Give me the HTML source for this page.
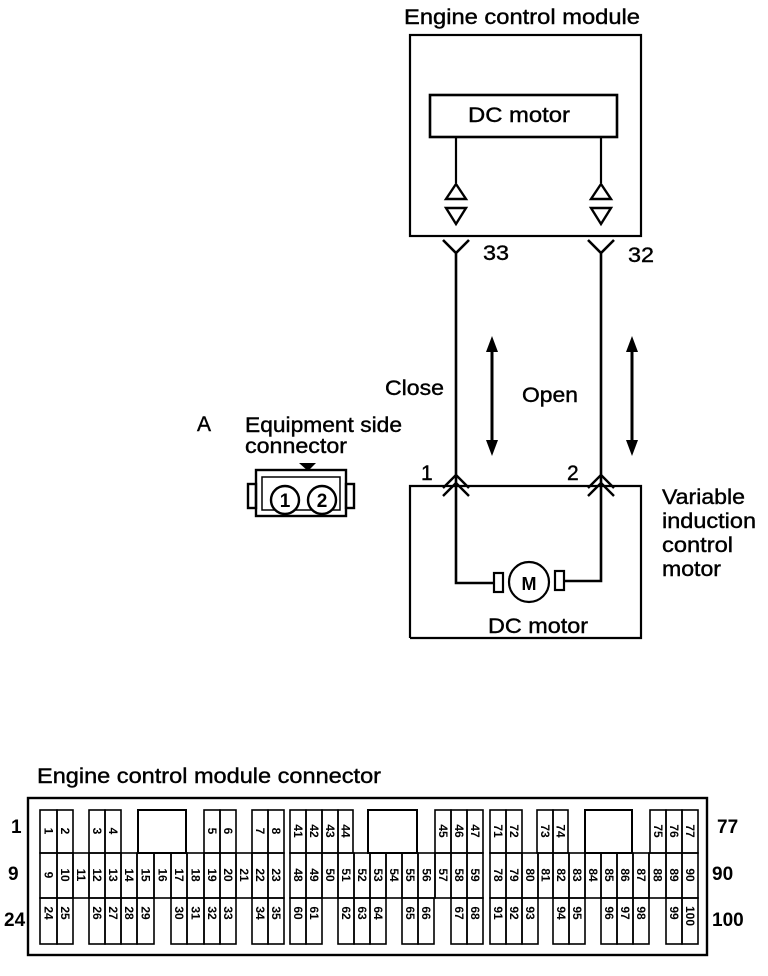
<!DOCTYPE html>
<html><head><meta charset="utf-8"><style>
html,body{margin:0;padding:0;background:#fff;}
svg{display:block;}
text{font-family:"Liberation Sans",sans-serif;fill:#000;}
.c rect{fill:none;stroke:#000;stroke-width:1.6;}
.c text{font-size:12px;font-weight:bold;}
.L text{stroke:#000;stroke-width:0.4;}
</style></head><body>
<svg width="768" height="976" viewBox="0 0 768 976" xmlns="http://www.w3.org/2000/svg">
<g stroke="#000" fill="none" stroke-width="2.2">
<rect x="410" y="35" width="231" height="201"/>
<rect x="430" y="95" width="187" height="42" stroke-width="2.6"/>
<line x1="456" y1="137" x2="456" y2="183"/>
<line x1="601" y1="137" x2="601" y2="183"/>
<path d="M456 184 L446 199 L466 199 Z M446 208 L466 208 L456 224 Z" stroke-width="2.4"/>
<path d="M601 184 L591 199 L611 199 Z M591 208 L611 208 L601 224 Z" stroke-width="2.4"/>
<path d="M443 240 L456 253 L469 240 M456 253 V583 H494" stroke-width="2.6"/>
<path d="M588 240 L601 253 L614 240 M601 253 V581 H563" stroke-width="2.6"/>
<path d="M443 488 L456 475 L469 488 M443 496 L456 483 L469 496" stroke-width="2.4"/>
<path d="M588 488 L601 475 L614 488 M588 496 L601 483 L614 496" stroke-width="2.4"/>
<polyline points="410,638 410,486 641,486 641,638 410,638"/>
<rect x="494" y="573" width="9" height="19"/>
<rect x="555" y="571" width="9" height="19"/>
<circle cx="529" cy="582" r="20"/>
<line x1="492" y1="345" x2="492" y2="446" stroke-width="3"/>
<line x1="632" y1="345" x2="632" y2="446" stroke-width="3"/>
</g>
<g fill="#000">
<path d="M492 336 L486 352 L498 352 Z M492 456 L486 440 L498 440 Z"/>
<path d="M632 336 L626 352 L638 352 Z M632 456 L626 440 L638 440 Z"/>
</g>
<g stroke="#000" fill="none" stroke-width="2.4">
<rect x="256" y="470" width="90" height="46"/>
<rect x="262" y="477" width="78" height="33" stroke-width="1.5"/>
<rect x="248" y="484" width="8" height="24"/>
<rect x="346" y="484" width="8" height="24"/>
<circle cx="285" cy="500" r="14" fill="#fff"/>
<circle cx="322" cy="500" r="14" fill="#fff"/>
</g>
<path d="M299 463 L316 463 L308 471 Z" fill="#000"/>
<text x="285" y="507" font-size="19" font-weight="bold" text-anchor="middle">1</text>
<text x="322" y="507" font-size="19" font-weight="bold" text-anchor="middle">2</text>
<text x="529" y="590" font-size="18" font-weight="bold" text-anchor="middle">M</text>

<g font-size="21" class="L" lengthAdjust="spacingAndGlyphs">
<text x="404" y="24" textLength="236" lengthAdjust="spacingAndGlyphs">Engine control module</text>
<text x="468" y="122" textLength="102" lengthAdjust="spacingAndGlyphs">DC motor</text>
<text x="483" y="260" textLength="26" lengthAdjust="spacingAndGlyphs">33</text>
<text x="628" y="262" textLength="26" lengthAdjust="spacingAndGlyphs">32</text>
<text x="385" y="395" textLength="59" lengthAdjust="spacingAndGlyphs">Close</text>
<text x="522" y="402" textLength="56" lengthAdjust="spacingAndGlyphs">Open</text>
<text x="197" y="431">A</text>
<text x="245" y="432" textLength="157" lengthAdjust="spacingAndGlyphs">Equipment side</text>
<text x="245" y="453" textLength="102" lengthAdjust="spacingAndGlyphs">connector</text>
<text x="421" y="480">1</text>
<text x="567" y="480">2</text>
<text x="662" y="504" textLength="83" lengthAdjust="spacingAndGlyphs">Variable</text>
<text x="662" y="528" textLength="94" lengthAdjust="spacingAndGlyphs">induction</text>
<text x="662" y="552" textLength="71" lengthAdjust="spacingAndGlyphs">control</text>
<text x="662" y="576" textLength="59" lengthAdjust="spacingAndGlyphs">motor</text>
<text x="488" y="633" textLength="100" lengthAdjust="spacingAndGlyphs">DC motor</text>
<text x="37" y="783" textLength="344" lengthAdjust="spacingAndGlyphs">Engine control module connector</text>
</g>
<g font-size="19" font-weight="bold">
<text x="11" y="833">1</text>
<text x="8" y="880">9</text>
<text x="4" y="926">24</text>
<text x="717" y="833">77</text>
<text x="712" y="880">90</text>
<text x="712" y="926">100</text>
</g>
<rect x="28" y="798" width="679" height="157" fill="none" stroke="#000" stroke-width="2.4"/>
<g stroke="#000" stroke-width="2" fill="none">
<rect x="138" y="810" width="48" height="43"/>
<rect x="368" y="810" width="49" height="43"/>
<rect x="585" y="810" width="47" height="43"/>
</g>
<g class="c">
<rect x="40" y="810" width="17" height="43"/><text transform="translate(48.5,831) rotate(90)" text-anchor="middle" dy="4">1</text>
<rect x="57" y="810" width="16" height="43"/><text transform="translate(65,831) rotate(90)" text-anchor="middle" dy="4">2</text>
<rect x="89" y="810" width="16" height="43"/><text transform="translate(97,831) rotate(90)" text-anchor="middle" dy="4">3</text>
<rect x="105" y="810" width="16" height="43"/><text transform="translate(113,831) rotate(90)" text-anchor="middle" dy="4">4</text>
<rect x="204" y="810" width="16" height="43"/><text transform="translate(212,831) rotate(90)" text-anchor="middle" dy="4">5</text>
<rect x="220" y="810" width="16" height="43"/><text transform="translate(228,831) rotate(90)" text-anchor="middle" dy="4">6</text>
<rect x="252" y="810" width="16" height="43"/><text transform="translate(260,831) rotate(90)" text-anchor="middle" dy="4">7</text>
<rect x="268" y="810" width="16" height="43"/><text transform="translate(276,831) rotate(90)" text-anchor="middle" dy="4">8</text>
<rect x="290" y="810" width="16" height="43"/><text transform="translate(298,831) rotate(90)" text-anchor="middle" dy="4">41</text>
<rect x="306" y="810" width="16" height="43"/><text transform="translate(314,831) rotate(90)" text-anchor="middle" dy="4">42</text>
<rect x="322" y="810" width="16" height="43"/><text transform="translate(330,831) rotate(90)" text-anchor="middle" dy="4">43</text>
<rect x="338" y="810" width="15" height="43"/><text transform="translate(345.5,831) rotate(90)" text-anchor="middle" dy="4">44</text>
<rect x="435" y="810" width="16" height="43"/><text transform="translate(443,831) rotate(90)" text-anchor="middle" dy="4">45</text>
<rect x="451" y="810" width="16" height="43"/><text transform="translate(459,831) rotate(90)" text-anchor="middle" dy="4">46</text>
<rect x="467" y="810" width="16" height="43"/><text transform="translate(475,831) rotate(90)" text-anchor="middle" dy="4">47</text>
<rect x="490" y="810" width="16" height="43"/><text transform="translate(498,831) rotate(90)" text-anchor="middle" dy="4">71</text>
<rect x="506" y="810" width="16" height="43"/><text transform="translate(514,831) rotate(90)" text-anchor="middle" dy="4">72</text>
<rect x="537" y="810" width="16" height="43"/><text transform="translate(545,831) rotate(90)" text-anchor="middle" dy="4">73</text>
<rect x="553" y="810" width="15" height="43"/><text transform="translate(560.5,831) rotate(90)" text-anchor="middle" dy="4">74</text>
<rect x="650" y="810" width="16" height="43"/><text transform="translate(658,831) rotate(90)" text-anchor="middle" dy="4">75</text>
<rect x="666" y="810" width="16" height="43"/><text transform="translate(674,831) rotate(90)" text-anchor="middle" dy="4">76</text>
<rect x="682" y="810" width="16" height="43"/><text transform="translate(690,831) rotate(90)" text-anchor="middle" dy="4">77</text>
<rect x="40" y="853" width="17" height="45"/><text transform="translate(48.5,875) rotate(90)" text-anchor="middle" dy="4">9</text>
<rect x="57" y="853" width="16" height="45"/><text transform="translate(65,875) rotate(90)" text-anchor="middle" dy="4">10</text>
<rect x="73" y="853" width="16" height="45"/><text transform="translate(81,875) rotate(90)" text-anchor="middle" dy="4">11</text>
<rect x="89" y="853" width="16" height="45"/><text transform="translate(97,875) rotate(90)" text-anchor="middle" dy="4">12</text>
<rect x="105" y="853" width="16" height="45"/><text transform="translate(113,875) rotate(90)" text-anchor="middle" dy="4">13</text>
<rect x="121" y="853" width="16" height="45"/><text transform="translate(129,875) rotate(90)" text-anchor="middle" dy="4">14</text>
<rect x="137" y="853" width="17" height="45"/><text transform="translate(145.5,875) rotate(90)" text-anchor="middle" dy="4">15</text>
<rect x="154" y="853" width="17" height="45"/><text transform="translate(162.5,875) rotate(90)" text-anchor="middle" dy="4">16</text>
<rect x="171" y="853" width="16" height="45"/><text transform="translate(179,875) rotate(90)" text-anchor="middle" dy="4">17</text>
<rect x="187" y="853" width="17" height="45"/><text transform="translate(195.5,875) rotate(90)" text-anchor="middle" dy="4">18</text>
<rect x="204" y="853" width="16" height="45"/><text transform="translate(212,875) rotate(90)" text-anchor="middle" dy="4">19</text>
<rect x="220" y="853" width="16" height="45"/><text transform="translate(228,875) rotate(90)" text-anchor="middle" dy="4">20</text>
<rect x="236" y="853" width="16" height="45"/><text transform="translate(244,875) rotate(90)" text-anchor="middle" dy="4">21</text>
<rect x="252" y="853" width="16" height="45"/><text transform="translate(260,875) rotate(90)" text-anchor="middle" dy="4">22</text>
<rect x="268" y="853" width="16" height="45"/><text transform="translate(276,875) rotate(90)" text-anchor="middle" dy="4">23</text>
<rect x="290" y="853" width="16" height="45"/><text transform="translate(298,875) rotate(90)" text-anchor="middle" dy="4">48</text>
<rect x="306" y="853" width="16" height="45"/><text transform="translate(314,875) rotate(90)" text-anchor="middle" dy="4">49</text>
<rect x="322" y="853" width="16" height="45"/><text transform="translate(330,875) rotate(90)" text-anchor="middle" dy="4">50</text>
<rect x="338" y="853" width="16" height="45"/><text transform="translate(346,875) rotate(90)" text-anchor="middle" dy="4">51</text>
<rect x="354" y="853" width="16" height="45"/><text transform="translate(362,875) rotate(90)" text-anchor="middle" dy="4">52</text>
<rect x="370" y="853" width="16" height="45"/><text transform="translate(378,875) rotate(90)" text-anchor="middle" dy="4">53</text>
<rect x="386" y="853" width="16" height="45"/><text transform="translate(394,875) rotate(90)" text-anchor="middle" dy="4">54</text>
<rect x="402" y="853" width="16" height="45"/><text transform="translate(410,875) rotate(90)" text-anchor="middle" dy="4">55</text>
<rect x="418" y="853" width="17" height="45"/><text transform="translate(426.5,875) rotate(90)" text-anchor="middle" dy="4">56</text>
<rect x="435" y="853" width="16" height="45"/><text transform="translate(443,875) rotate(90)" text-anchor="middle" dy="4">57</text>
<rect x="451" y="853" width="16" height="45"/><text transform="translate(459,875) rotate(90)" text-anchor="middle" dy="4">58</text>
<rect x="467" y="853" width="16" height="45"/><text transform="translate(475,875) rotate(90)" text-anchor="middle" dy="4">59</text>
<rect x="490" y="853" width="16" height="45"/><text transform="translate(498,875) rotate(90)" text-anchor="middle" dy="4">78</text>
<rect x="506" y="853" width="16" height="45"/><text transform="translate(514,875) rotate(90)" text-anchor="middle" dy="4">79</text>
<rect x="522" y="853" width="16" height="45"/><text transform="translate(530,875) rotate(90)" text-anchor="middle" dy="4">80</text>
<rect x="538" y="853" width="15" height="45"/><text transform="translate(545.5,875) rotate(90)" text-anchor="middle" dy="4">81</text>
<rect x="553" y="853" width="16" height="45"/><text transform="translate(561,875) rotate(90)" text-anchor="middle" dy="4">82</text>
<rect x="569" y="853" width="16" height="45"/><text transform="translate(577,875) rotate(90)" text-anchor="middle" dy="4">83</text>
<rect x="585" y="853" width="16" height="45"/><text transform="translate(593,875) rotate(90)" text-anchor="middle" dy="4">84</text>
<rect x="601" y="853" width="16" height="45"/><text transform="translate(609,875) rotate(90)" text-anchor="middle" dy="4">85</text>
<rect x="617" y="853" width="16" height="45"/><text transform="translate(625,875) rotate(90)" text-anchor="middle" dy="4">86</text>
<rect x="633" y="853" width="16" height="45"/><text transform="translate(641,875) rotate(90)" text-anchor="middle" dy="4">87</text>
<rect x="649" y="853" width="17" height="45"/><text transform="translate(657.5,875) rotate(90)" text-anchor="middle" dy="4">88</text>
<rect x="666" y="853" width="16" height="45"/><text transform="translate(674,875) rotate(90)" text-anchor="middle" dy="4">89</text>
<rect x="682" y="853" width="16" height="45"/><text transform="translate(690,875) rotate(90)" text-anchor="middle" dy="4">90</text>
<rect x="40" y="898" width="17" height="46"/><text transform="translate(48.5,913) rotate(90)" text-anchor="middle" dy="4">24</text>
<rect x="57" y="898" width="16" height="46"/><text transform="translate(65,913) rotate(90)" text-anchor="middle" dy="4">25</text>
<rect x="89" y="898" width="16" height="46"/><text transform="translate(97,913) rotate(90)" text-anchor="middle" dy="4">26</text>
<rect x="105" y="898" width="16" height="46"/><text transform="translate(113,913) rotate(90)" text-anchor="middle" dy="4">27</text>
<rect x="121" y="898" width="16" height="46"/><text transform="translate(129,913) rotate(90)" text-anchor="middle" dy="4">28</text>
<rect x="137" y="898" width="17" height="46"/><text transform="translate(145.5,913) rotate(90)" text-anchor="middle" dy="4">29</text>
<rect x="171" y="898" width="16" height="46"/><text transform="translate(179,913) rotate(90)" text-anchor="middle" dy="4">30</text>
<rect x="187" y="898" width="17" height="46"/><text transform="translate(195.5,913) rotate(90)" text-anchor="middle" dy="4">31</text>
<rect x="204" y="898" width="16" height="46"/><text transform="translate(212,913) rotate(90)" text-anchor="middle" dy="4">32</text>
<rect x="220" y="898" width="16" height="46"/><text transform="translate(228,913) rotate(90)" text-anchor="middle" dy="4">33</text>
<rect x="252" y="898" width="16" height="46"/><text transform="translate(260,913) rotate(90)" text-anchor="middle" dy="4">34</text>
<rect x="268" y="898" width="16" height="46"/><text transform="translate(276,913) rotate(90)" text-anchor="middle" dy="4">35</text>
<rect x="290" y="898" width="16" height="46"/><text transform="translate(298,913) rotate(90)" text-anchor="middle" dy="4">60</text>
<rect x="306" y="898" width="16" height="46"/><text transform="translate(314,913) rotate(90)" text-anchor="middle" dy="4">61</text>
<rect x="338" y="898" width="16" height="46"/><text transform="translate(346,913) rotate(90)" text-anchor="middle" dy="4">62</text>
<rect x="354" y="898" width="16" height="46"/><text transform="translate(362,913) rotate(90)" text-anchor="middle" dy="4">63</text>
<rect x="370" y="898" width="16" height="46"/><text transform="translate(378,913) rotate(90)" text-anchor="middle" dy="4">64</text>
<rect x="402" y="898" width="16" height="46"/><text transform="translate(410,913) rotate(90)" text-anchor="middle" dy="4">65</text>
<rect x="418" y="898" width="16" height="46"/><text transform="translate(426,913) rotate(90)" text-anchor="middle" dy="4">66</text>
<rect x="451" y="898" width="16" height="46"/><text transform="translate(459,913) rotate(90)" text-anchor="middle" dy="4">67</text>
<rect x="467" y="898" width="16" height="46"/><text transform="translate(475,913) rotate(90)" text-anchor="middle" dy="4">68</text>
<rect x="490" y="898" width="16" height="46"/><text transform="translate(498,913) rotate(90)" text-anchor="middle" dy="4">91</text>
<rect x="506" y="898" width="16" height="46"/><text transform="translate(514,913) rotate(90)" text-anchor="middle" dy="4">92</text>
<rect x="522" y="898" width="16" height="46"/><text transform="translate(530,913) rotate(90)" text-anchor="middle" dy="4">93</text>
<rect x="553" y="898" width="16" height="46"/><text transform="translate(561,913) rotate(90)" text-anchor="middle" dy="4">94</text>
<rect x="569" y="898" width="16" height="46"/><text transform="translate(577,913) rotate(90)" text-anchor="middle" dy="4">95</text>
<rect x="601" y="898" width="16" height="46"/><text transform="translate(609,913) rotate(90)" text-anchor="middle" dy="4">96</text>
<rect x="617" y="898" width="16" height="46"/><text transform="translate(625,913) rotate(90)" text-anchor="middle" dy="4">97</text>
<rect x="633" y="898" width="16" height="46"/><text transform="translate(641,913) rotate(90)" text-anchor="middle" dy="4">98</text>
<rect x="666" y="898" width="16" height="46"/><text transform="translate(674,913) rotate(90)" text-anchor="middle" dy="4">99</text>
<rect x="682" y="898" width="16" height="46"/><text transform="translate(690,916) rotate(90)" text-anchor="middle" dy="4">100</text>
</g>
</svg>
</body></html>
